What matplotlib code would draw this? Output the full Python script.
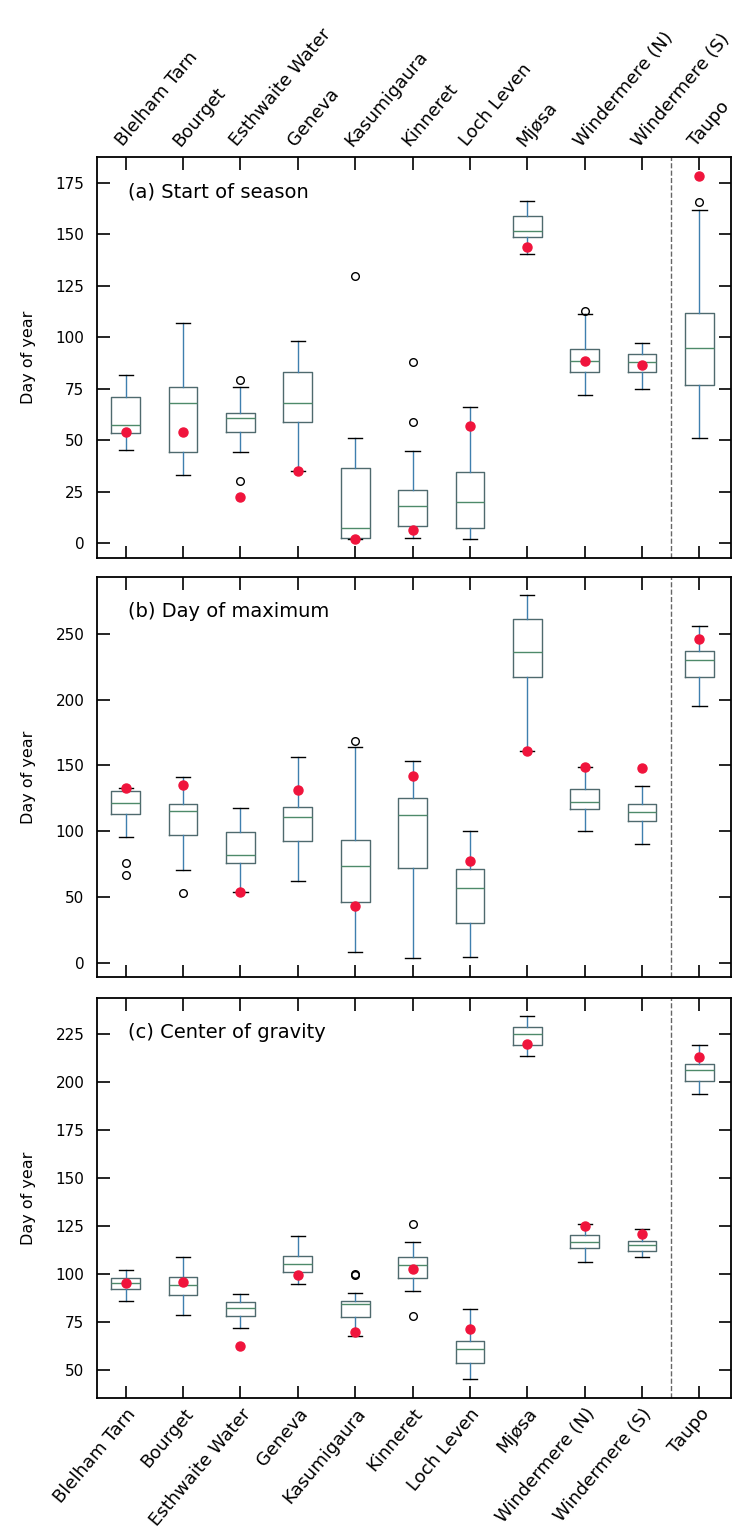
import matplotlib
matplotlib.use("Agg")
import matplotlib.pyplot as plt

lakes = ["Blelham Tarn", "Bourget", "Esthwaite Water", "Geneva", "Kasumigaura",
         "Kinneret", "Loch Leven", "Mjøsa", "Windermere (N)", "Windermere (S)", "Taupo"]

# (a) Start of season
a_whislo = [45, 33, 44, 35, 2, 2.4, 2.1, 140.6, 72, 75, 51]
a_q1     = [53.6, 44, 54, 59, 2.2, 8.4, 7.1, 148.6, 83, 83.1, 76.8]
a_med    = [57.4, 68, 60.8, 68, 7.3, 18, 19.7, 151.7, 88.6, 88, 95]
a_q3     = [71.1, 76, 63, 83, 36.5, 25.9, 34.7, 159.1, 94.3, 91.7, 111.7]
a_whishi = [81.7, 106.8, 75.7, 98, 50.8, 44.7, 66, 166.4, 111.3, 97, 161.6]
a_fliers = [[], [], [79.4, 30], [], [130], [88, 59], [], [], [112.6], [], [165.6]]
a_red    = [53.8, 54, 22.2, 35, 2, 6.4, 57, 143.8, 88.6, 86.5, 178.4]

# (b) Day of maximum
b_whislo = [95.4, 70.6, 54.1, 62.3, 8.4, 3.6, 4.3, 160.6, 100.5, 90.4, 195.3]
b_q1     = [113.1, 97.2, 75.7, 92.6, 46.6, 71.9, 30.2, 216.8, 116.8, 107.9, 216.8]
b_med    = [121.7, 115.4, 82, 111.1, 73.6, 112.4, 56.7, 235.8, 122.5, 115, 230.2]
b_q3     = [130.6, 120.5, 99.7, 118.2, 93.4, 125.6, 71.2, 261.2, 131.9, 120.8, 236.6]
b_whishi = [133, 141.5, 118, 156.2, 164.3, 153.4, 100.5, 279.6, 148.7, 134.5, 256]
b_fliers = [[75.7, 66.8], [53.4], [], [], [168.6], [], [], [], [], [], []]
b_red    = [133.2, 135.2, 54, 131.4, 43.5, 142, 77.5, 160.6, 148.7, 148.4, 246.2]

# (c) Center of gravity
c_whislo = [86.1, 78.4, 71.8, 95, 67.4, 91, 45.3, 213.5, 106.4, 108.8, 193.9]
c_q1     = [92.4, 89.3, 77.9, 101.1, 77.6, 98, 53.5, 219.6, 113.7, 111.9, 200.9]
c_med    = [95.4, 94, 82.3, 105, 84.4, 104.5, 60.8, 225.4, 116.9, 114.9, 206.2]
c_q3     = [98, 98.5, 85.4, 109.3, 86.1, 108.8, 65.2, 228.9, 120.3, 117.2, 209.7]
c_whishi = [102, 108.8, 89.8, 119.8, 90.1, 116.9, 81.8, 234.5, 126.3, 123.7, 219.6]
c_fliers = [[], [], [], [], [99.4, 100.2], [125.9, 78.3], [], [], [], [], []]
c_red    = [95.4, 95.9, 62.6, 99.4, 69.5, 102.7, 71.3, 220.2, 125, 120.7, 213.2]

panels = [
    ("(a) Start of season", a_whislo, a_q1, a_med, a_q3, a_whishi, a_fliers, a_red,
     (-7.3, 187.6), [0, 25, 50, 75, 100, 125, 150, 175]),
    ("(b) Day of maximum", b_whislo, b_q1, b_med, b_q3, b_whishi, b_fliers, b_red,
     (-10.6, 293), [0, 50, 100, 150, 200, 250]),
    ("(c) Center of gravity", c_whislo, c_q1, c_med, c_q3, c_whishi, c_fliers, c_red,
     (35.3, 244), [50, 75, 100, 125, 150, 175, 200, 225]),
]

fig = plt.figure(figsize=(7.42, 15.34), dpi=100)
left = 97 / 742
width = (731 - 97) / 742
H = 1534
rects = [(157, 558), (577, 977), (998, 1398)]

pos = list(range(1, len(lakes) + 1))
for i, (title, wl, q1, med, q3, wh, fl, red, ylim, yt) in enumerate(panels):
    top, bot = rects[i]
    ax = fig.add_axes([left, 1 - bot / H, width, (bot - top) / H])
    stats = []
    for j in range(len(lakes)):
        stats.append(dict(whislo=wl[j], q1=q1[j], med=med[j], q3=q3[j],
                          whishi=wh[j], fliers=fl[j], label=lakes[j]))
    ax.bxp(stats, positions=pos, widths=0.5, showfliers=True,
           boxprops=dict(color="#4f6a6e", linewidth=1.0),
           whiskerprops=dict(color="#3f7fae", linewidth=1.0),
           capprops=dict(color="black", linewidth=1.0),
           medianprops=dict(color="#4e8a6a", linewidth=1.0),
           flierprops=dict(marker="o", markerfacecolor="none",
                           markeredgecolor="black", markersize=5.5,
                           markeredgewidth=1.0))
    ax.plot(pos, red, "o", color="#f0143c", markersize=6.5, zorder=5,
            linestyle="none")
    ax.axvline(10.5, color="#666666", linestyle="--", linewidth=1.0)
    ax.set_xlim(0.5, 11.55)
    ax.set_ylim(*ylim)
    ax.set_yticks(yt)
    ax.set_xticks(pos)
    ax.tick_params(axis="both", direction="in", length=9, width=1.2,
                   labelsize=11, top=True, right=True)
    ax.tick_params(axis="y", pad=9)
    if i == 0:
        ax.tick_params(axis="x", labeltop=True, labelbottom=False, pad=5)
        ax.set_xticklabels(lakes, rotation=50, ha="left", rotation_mode="anchor",
                           fontsize=13)
    elif i == 2:
        ax.tick_params(axis="x", pad=5)
        ax.set_xticklabels(lakes, rotation=50, ha="right", rotation_mode="anchor",
                           fontsize=13)
    else:
        ax.set_xticklabels([])
    for s in ax.spines.values():
        s.set_linewidth(1.3)
    ax.set_ylabel("Day of year", fontsize=11.5, labelpad=14)
    ax.text(0.049, 0.913, title, transform=ax.transAxes, fontsize=14,
            ha="left", va="center")

fig.savefig("out.png", dpi=100)
